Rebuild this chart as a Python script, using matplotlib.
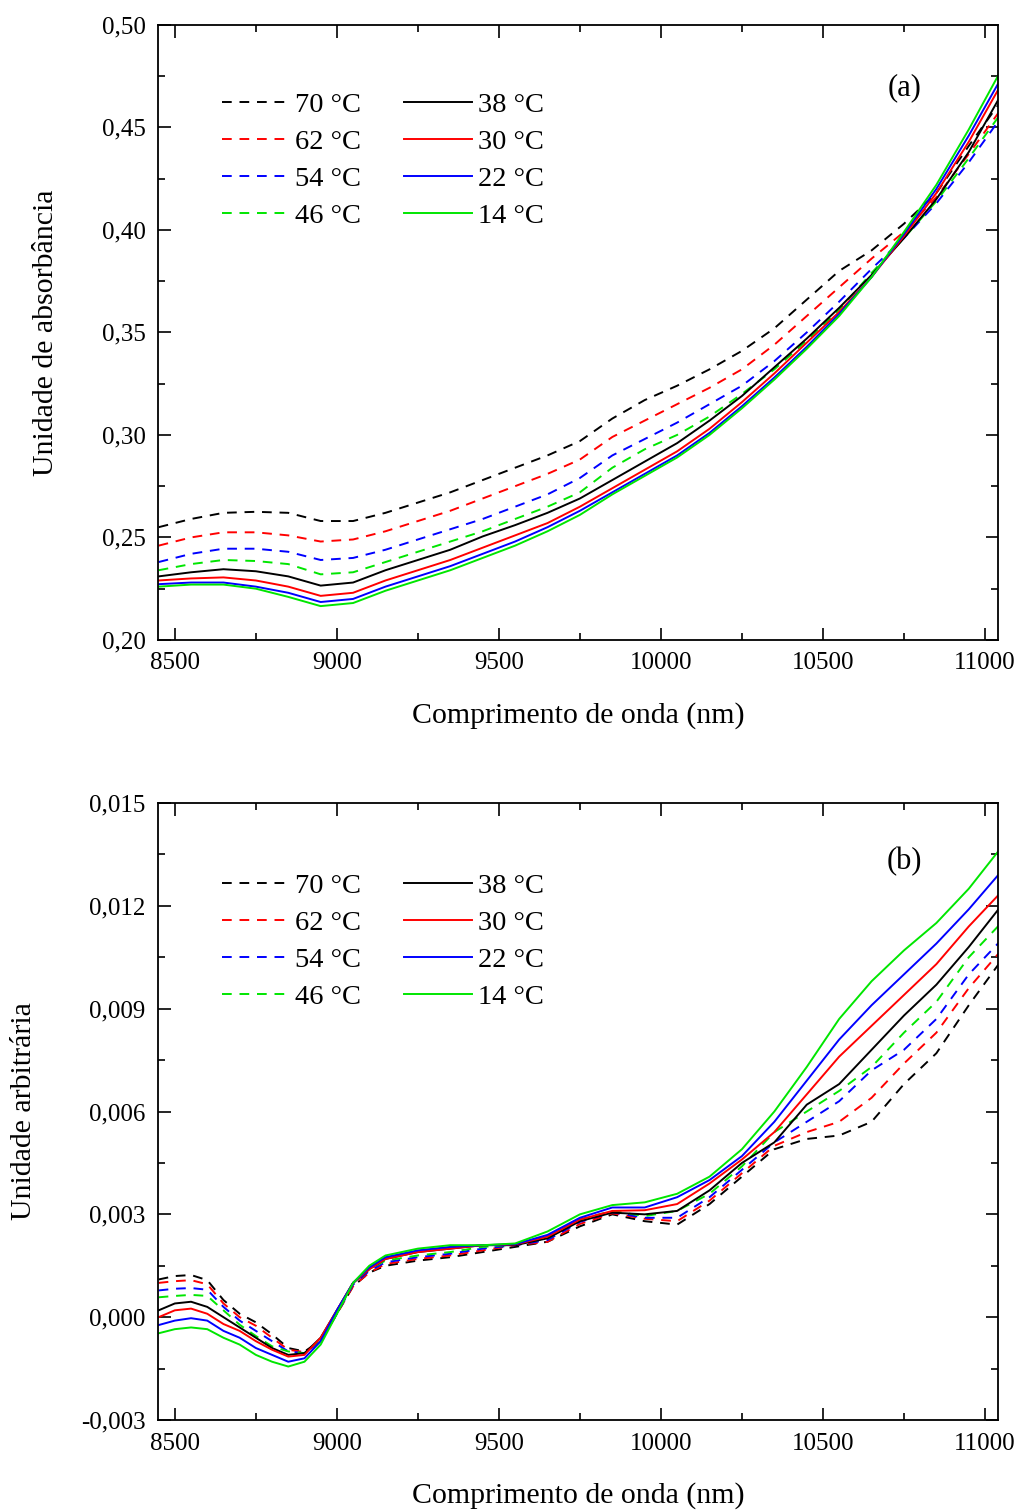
import numpy as np
import matplotlib
matplotlib.use("Agg")
import matplotlib.pyplot as plt
from matplotlib.ticker import MultipleLocator, FuncFormatter

plt.rcParams['font.family'] = ['Liberation Serif', 'DejaVu Serif']

# ---- data ----
labels = ["70 °C", "62 °C", "54 °C", "46 °C", "38 °C", "30 °C", "22 °C", "14 °C"]
colors = ["black", "red", "blue", "#00e600", "black", "red", "blue", "#00e600"]
styles = ["--", "--", "--", "--", "-", "-", "-", "-"]

# (a) absorbance
wl_a = [8450, 8550, 8650, 8750, 8850, 8950, 9050, 9150, 9250, 9350, 9450, 9550, 9650,
        9750, 9850, 9950, 10050, 10150, 10250, 10350, 10450, 10550, 10650, 10750,
        10850, 10950, 11050]
abs_70 = [.255, .259, .262, .2625, .262, .258, .258, .262, .267, .272, .278, .284, .290,
          .297, .308, .317, .324, .332, .341, .352, .366, .380, .390, .403, .418, .441, .463]
abs_62 = [.246, .250, .2525, .2525, .251, .248, .249, .253, .258, .263, .269, .275, .281,
          .288, .299, .307, .315, .323, .332, .344, .358, .372, .386, .399, .416, .437, .459]
abs_54 = [.238, .242, .2445, .2445, .243, .239, .240, .244, .249, .254, .259, .265, .271,
          .279, .290, .298, .306, .315, .324, .336, .350, .365, .381, .396, .413, .433, .455]
abs_46 = [.234, .237, .239, .2385, .237, .232, .233, .238, .243, .248, .253, .259, .265,
          .272, .284, .293, .300, .309, .320, .332, .346, .361, .379, .396, .414, .435, .457]
abs_38 = [.231, .233, .2345, .2335, .231, .2265, .228, .234, .239, .244, .2505, .256, .262,
          .269, .278, .287, .296, .307, .319, .333, .347, .362, .378, .396, .415, .438, .466]
abs_30 = [.229, .230, .2305, .229, .226, .2215, .223, .229, .234, .239, .245, .251, .257,
          .265, .274, .283, .292, .303, .316, .330, .345, .360, .377, .397, .418, .443, .471]
abs_22 = [.2272, .228, .228, .226, .223, .2185, .220, .226, .231, .236, .242, .248, .255,
          .263, .272, .281, .290, .301, .314, .328, .343, .359, .377, .398, .420, .446, .474]
abs_14 = [.226, .227, .227, .225, .221, .2165, .218, .224, .229, .234, .240, .246, .253,
          .261, .271, .280, .289, .300, .313, .327, .342, .358, .377, .399, .422, .449, .478]

# (b) arbitrary units
wl_b = [8450, 8500, 8550, 8600, 8650, 8700, 8750, 8800, 8850, 8900, 8950, 9000, 9050,
        9100, 9150, 9250, 9350, 9450, 9550, 9650, 9750, 9850, 9950, 10050, 10150, 10250,
        10350, 10450, 10550, 10650, 10750, 10850, 10950, 11050]
arb_70 = [.0011, .0012, .00123, .00108, .0005, .0001, -.00015, -.0005, -.0009, -.001,
          -.0007, .0001, .0009, .0013, .0015, .00165, .00175, .0019, .00205, .0022, .00265,
          .0030, .0028, .0027, .0033, .0041, .0049, .0052, .0053, .0057, .0068, .0077,
          .0091, .0104]
arb_62 = [.001, .00105, .00108, .00096, .0004, .0, -.00025, -.0006, -.00095, -.00102,
          -.0007, .0001, .0009, .0013, .00155, .0017, .0018, .00195, .0021, .0022, .00272,
          .00303, .00287, .0028, .0034, .0042, .0050, .0054, .0057, .0064, .0074, .0083,
          .0096, .0107]
arb_54 = [.00078, .00083, .00085, .0008, .0003, -.0001, -.0004, -.0007, -.001, -.00105,
          -.0007, .0001, .00095, .00135, .0016, .00175, .00185, .002, .0021, .00225, .00278,
          .00306, .0029, .0029, .0035, .0043, .0051, .0057, .0063, .0072, .0078, .0087,
          .0100, .0110]
arb_46 = [.00058, .00062, .00065, .00062, .0002, -.00022, -.00055, -.00085, -.001, -.00105,
          -.0007, .0001, .001, .0014, .00165, .0018, .0019, .00205, .00212, .0023, .00285,
          .0031, .00295, .0031, .0036, .0044, .0054, .0060, .0066, .0073, .0083, .0092,
          .0105, .0115]
arb_38 = [.0002, .0004, .00045, .0003, .0, -.0003, -.0006, -.0009, -.0011, -.00105,
          -.0006, .0002, .001, .0014, .0017, .0019, .002, .0021, .0021, .0023, .0028,
          .00305, .003, .0031, .0037, .0045, .0051, .0062, .0068, .0078, .0088, .0097,
          .0108, .0120]
arb_30 = [.0, .0002, .00025, .0001, -.0002, -.0004, -.0007, -.00095, -.00115, -.0011,
          -.0006, .0002, .001, .0014, .0017, .0019, .002, .0021, .00212, .00235, .00285,
          .0031, .00312, .0033, .0039, .0046, .0054, .0065, .0076, .0085, .0094, .0103,
          .0114, .0124]
arb_22 = [-.00023, -.0001, -.00003, -.0001, -.0004, -.0006, -.0009, -.0011, -.0013, -.0012,
          -.0007, .0002, .001, .00145, .00175, .00195, .00205, .0021, .00213, .0024, .0029,
          .0032, .0032, .0035, .0040, .0047, .0057, .0069, .0081, .0091, .0100, .0109,
          .0119, .0130]
arb_14 = [-.00047, -.00035, -.0003, -.00035, -.0006, -.0008, -.0011, -.0013, -.00144, -.0013,
          -.0008, .0001, .001, .0015, .0018, .002, .0021, .0021, .00215, .0025, .003,
          .00327, .00335, .0036, .0041, .0049, .0060, .0073, .0087, .0098, .0107, .0115,
          .0125, .0137]

series_a = [abs_70, abs_62, abs_54, abs_46, abs_38, abs_30, abs_22, abs_14]
series_b = [arb_70, arb_62, arb_54, arb_46, arb_38, arb_30, arb_22, arb_14]

fig = plt.figure(figsize=(10.18, 15.10), dpi=100)
ax1 = fig.add_axes([0.1552, 0.5762, 0.8251, 0.4073])
ax2 = fig.add_axes([0.1552, 0.0596, 0.8251, 0.4086])


def comma(dec):
    return FuncFormatter(lambda v, p: f"{v:.{dec}f}".replace(".", ","))


def style_axis(ax, ylab, ymin, ymax, ystep, dec, panel, panel_y, ylab_x, leg_y):
    ax.set_xlim(8448, 11040)
    ax.set_ylim(ymin, ymax)
    ax.xaxis.set_major_locator(MultipleLocator(500))
    ax.xaxis.set_minor_locator(MultipleLocator(250))
    ax.yaxis.set_major_locator(MultipleLocator(ystep))
    ax.yaxis.set_minor_locator(MultipleLocator(ystep / 2))
    ax.yaxis.set_major_formatter(comma(dec))
    ax.tick_params(which="both", direction="in", top=True, right=True, width=1.2)
    ax.tick_params(which="major", length=9, labelsize=18, pad=9)
    ax.tick_params(which="minor", length=5)
    for sp in ax.spines.values():
        sp.set_linewidth(1.3)
    ax.set_xlabel("Comprimento de onda (nm)", fontsize=21.5, labelpad=20)
    ax.set_ylabel(ylab, fontsize=21.5)
    ax.yaxis.set_label_coords(ylab_x, 0.5)
    ax.text(0.889, panel_y, panel, transform=ax.transAxes, fontsize=22,
            ha="center", va="center")
    ax.legend(loc="upper left", bbox_to_anchor=(0.0626, leg_y), ncol=2,
              frameon=False, fontsize=20.5, handlelength=2.4, handletextpad=0.18,
              labelspacing=0.39, columnspacing=1.5, borderaxespad=0)


for vals, lab, c, ls in zip(series_a, labels, colors, styles):
    ax1.plot(wl_a, vals, color=c, linestyle=ls, lw=1.4, label=lab,
             dashes=(5, 4) if ls == "--" else (None, None))
for vals, lab, c, ls in zip(series_b, labels, colors, styles):
    ax2.plot(wl_b, vals, color=c, linestyle=ls, lw=1.4, label=lab,
             dashes=(5, 4) if ls == "--" else (None, None))

style_axis(ax1, "Unidade de absorbância", 0.20, 0.50, 0.05, 2, "(a)", 0.898, -0.118, 0.909)
style_axis(ax2, "Unidade arbitrária", -0.003, 0.015, 0.003, 3, "(b)", 0.905, -0.144, 0.905)

fig.savefig("out.png", dpi=100)
